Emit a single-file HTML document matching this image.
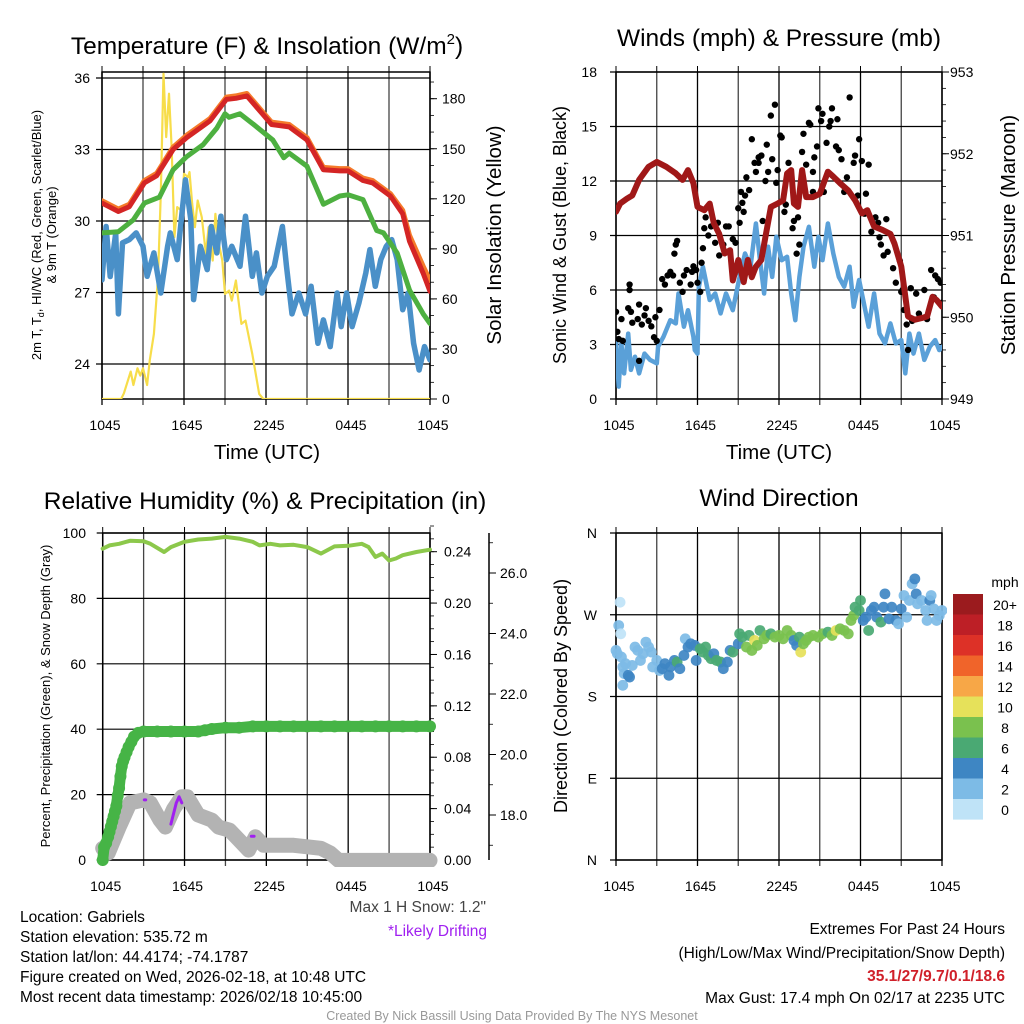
<!DOCTYPE html>
<html><head><meta charset="utf-8"><style>
body{margin:0;background:#fff}
svg{font-family:"Liberation Sans",sans-serif;display:block}
</style></head><body>
<svg id="s" width="1024" height="1024" viewBox="0 0 1024 1024" xmlns="http://www.w3.org/2000/svg">
<defs>
<clipPath id="c1"><rect x="102" y="72" width="328" height="327"/></clipPath>
<clipPath id="c2"><rect x="616" y="72" width="326" height="327"/></clipPath>
<clipPath id="c3"><rect x="95" y="528" width="345" height="339"/></clipPath>
<clipPath id="c4"><rect x="610" y="528" width="337" height="337"/></clipPath>
</defs>
<g id="g1"></g>
<g id="g2"></g>
<g id="g3"></g>
<g id="g4"></g>
<g font-size="24.5" text-anchor="middle">
<text x="267" y="54">Temperature (F) &amp; Insolation (W/m<tspan font-size="15" dy="-10">2</tspan><tspan dy="10">)</tspan></text>
<text x="779" y="46">Winds (mph) &amp; Pressure (mb)</text>
<text x="265" y="509">Relative Humidity (%) &amp; Precipitation (in)</text>
<text x="779" y="506">Wind Direction</text>
</g>
<g font-size="20.5" text-anchor="middle">
<text x="267" y="459">Time (UTC)</text>
<text x="779" y="459">Time (UTC)</text>
<text transform="translate(501,235) rotate(-90)">Solar Insolation (Yellow)</text>
<text transform="translate(1015,235) rotate(-90)">Station Pressure (Maroon)</text>
</g>
<g font-size="18" text-anchor="middle">
<text transform="translate(566,235) rotate(-90)">Sonic Wind &amp; Gust (Blue, Black)</text>
<text transform="translate(567,696) rotate(-90)">Direction (Colored By Speed)</text>
</g>
<g font-size="13" text-anchor="middle">
<text transform="translate(41,235) rotate(-90)">2m T, T<tspan font-size="9" dy="3">d</tspan><tspan dy="-3">, HI/WC (Red, Green, Scarlet/Blue)</tspan></text>
<text transform="translate(56,235) rotate(-90)">&amp; 9m T (Orange)</text>
<text transform="translate(50,696) rotate(-90)">Percent, Precipitation (Green), &amp; Snow Depth (Gray)</text>
</g>
<g font-size="15.5">
<text x="20" y="922">Location: Gabriels</text>
<text x="20" y="942">Station elevation: 535.72 m</text>
<text x="20" y="962">Station lat/lon: 44.4174; -74.1787</text>
<text x="20" y="982">Figure created on Wed, 2026-02-18, at 10:48 UTC</text>
<text x="20" y="1002">Most recent data timestamp: 2026/02/18 10:45:00</text>
<text x="486" y="912" text-anchor="end" fill="#444">Max 1 H Snow: 1.2"</text>
<text x="487" y="936" text-anchor="end" fill="#a020f0">*Likely Drifting</text>
<text x="1005" y="934" text-anchor="end">Extremes For Past 24 Hours</text>
<text x="1005" y="958" text-anchor="end">(High/Low/Max Wind/Precipitation/Snow Depth)</text>
<text x="1005" y="981" text-anchor="end" fill="#d0202a" font-weight="bold">35.1/27/9.7/0.1/18.6</text>
<text x="1005" y="1003" text-anchor="end">Max Gust: 17.4 mph On 02/17 at 2235 UTC</text>
</g>
<text x="512" y="1020" font-size="12.5" fill="#999" text-anchor="middle">Created By Nick Bassill Using Data Provided By The NYS Mesonet</text>
</svg>
<script>
// ---- data ----
const timeTickLabels=["1045","1645","2245","0445","1045"];
const redH=[0,1.2,2,3.1,4,5.2,6.2,7.9,9.1,9.8,10.6,11.8,12.4,13.7,15,16.2,17.4,18,19.1,19.8,21.1,22,22.5,23.5,24];
const redT=[30.75,30.4,30.6,31.6,31.9,33.0,33.5,34.2,35.1,35.15,35.25,34.45,34.05,33.95,33.4,32.15,32.1,32.1,31.7,31.6,31.05,30.3,29.15,27.8,27.05];
const orangeT=[30.85,30.5,30.7,31.7,32.0,33.1,33.6,34.3,35.2,35.25,35.35,34.55,34.15,34.05,33.5,32.25,32.2,32.2,31.8,31.7,31.15,30.45,29.4,28.1,27.5];
const greenH=[0,1.2,2.3,3.1,4.2,5.2,6.2,7.4,8.4,9,9.3,10.1,11.1,12.5,13.3,13.7,15,16.2,17.4,18,19.1,20.1,20.6,21.6,22.5,23.5,24];
const greenT=[29.5,29.55,30.05,30.75,31.0,32.15,32.7,33.2,33.9,34.5,34.35,34.5,34.05,33.4,32.65,32.85,32.3,30.7,31.05,31.1,30.9,29.6,29.5,28.65,27.1,26.1,25.7];
const blueH=[0,0.3,0.6,1.0,1.2,1.5,2.0,2.5,3.0,3.3,3.8,4.3,4.8,5.0,5.5,6.1,6.5,6.7,7.2,7.7,8.0,8.4,8.7,9.1,9.5,10.1,10.5,11.0,11.3,11.7,12.1,12.6,13.2,13.5,13.9,14.4,14.9,15.3,15.8,16.2,16.7,17.2,17.5,17.9,18.3,18.8,19.3,19.6,20.0,20.4,20.8,21.2,21.6,22.0,22.4,22.8,23.2,23.6,24];
const blueT=[27.53,29.77,27.67,29.49,26.1,29.08,29.22,29.5,28.94,27.68,28.66,26.98,28.94,29.5,28.38,31.73,30.06,26.7,28.94,27.96,29.77,28.66,30.2,28.38,28.94,28.1,30.2,27.68,28.66,26.98,27.68,28.1,29.77,28.1,26.1,26.98,26.1,27.26,24.87,25.85,24.73,26.98,25.57,26.98,25.57,26.56,27.82,28.8,27.26,28.38,28.94,29.22,28.38,26.28,26.98,24.87,23.75,24.73,24.17];
const solH=[0,1.4,1.6,2.1,2.3,2.6,2.8,3.0,3.3,3.5,3.8,4.1,4.3,4.5,4.7,4.9,5.1,5.3,5.5,5.8,6.0,6.3,6.4,6.6,6.8,7.0,7.3,7.6,7.8,8.1,8.3,8.5,8.8,9.0,9.3,9.5,9.8,10.2,10.5,11.0,11.5,11.8,24];
const solV=[0,0,3.4,16.4,8.4,18.4,14,18.4,8.4,23.4,39,73,123,195,157,183,150,97,115,113,135,133,136,117,103,119,109,87,103,83,111,95,83,63,65,59,71,45,47,27,3,0,0];
const presH=[0,0.3,0.8,1.2,1.7,2.4,3.0,3.7,4.4,4.9,5.3,5.7,6.0,6.5,6.9,7.2,7.6,8.0,8.4,8.6,9.0,9.4,9.7,10.0,10.3,10.7,11.0,11.4,11.9,12.3,12.6,12.9,13.1,13.4,13.7,14.0,14.5,15.0,15.6,16.0,16.5,17.1,17.6,18.1,18.5,19.0,19.6,20.2,20.5,21.0,21.5,22.0,22.5,22.9,23.3,23.6,24];
const presV=[951.29,951.39,951.45,951.49,951.68,951.84,951.9,951.84,951.76,951.68,951.8,951.64,951.35,951.31,951.39,951.15,951.02,950.78,950.82,950.45,950.7,950.43,950.7,950.49,950.62,950.7,950.98,951.35,951.39,951.43,951.76,951.8,951.39,951.35,951.8,951.47,951.47,951.51,951.78,951.72,951.64,951.55,951.43,951.27,951.31,951.11,951.07,951.02,950.9,950.62,950.01,949.97,949.99,950.01,950.25,950.21,950.13];
const windH=[0,0.2,0.4,0.6,0.9,1.1,1.4,1.7,2.1,2.5,3.0,3.1,3.5,4.0,4.4,4.6,5.0,5.3,5.7,5.8,6.0,6.1,6.4,6.9,7.3,7.7,8.1,8.6,9.1,9.5,9.9,10.3,10.6,10.9,11.2,11.5,11.8,12.2,12.6,12.9,13.2,13.5,13.8,14.2,14.6,14.9,15.2,15.6,16.0,16.4,16.8,17.2,17.5,17.9,18.2,18.6,19.0,19.4,19.8,20.2,20.6,21.0,21.3,21.6,21.9,22.3,22.7,23.1,23.5,23.8,24];
const windV=[3.24,0.68,3.06,1.41,3.6,1.6,2.33,1.41,2.5,2.15,1.96,2.88,3.43,4.34,4.16,5.81,3.98,4.89,3.43,2.69,2.5,6.18,7.28,5.45,5.81,4.71,5.81,4.89,6.72,8.01,7.28,9.66,7.64,5.81,8.38,6.72,8.93,7.64,7.83,5.81,4.34,6.72,8.38,9.48,7.28,8.93,7.64,9.66,8.01,6.72,6.18,7.28,5.08,6.55,5.45,3.98,5.81,3.6,3.06,4.16,3.06,3.24,1.41,3.6,2.5,3.6,2.15,2.88,3.24,2.69,2.88];
const gustH=[0,0.1,0.2,0.4,0.5,0.9,1.0,1.0,1.1,1.2,1.6,1.7,1.7,1.9,2.1,2.2,2.4,2.6,2.8,3.0,2.9,3.2,3.4,3.6,3.8,4.0,4.2,4.3,4.4,4.5,4.7,4.9,5.0,5.2,5.5,5.6,5.7,5.9,6.0,6.2,6.3,6.4,6.5,6.6,6.8,7.0,7.3,7.5,7.6,7.9,8.1,8.3,8.6,8.8,9.0,9.1,9.2,9.3,9.4,9.5,9.6,9.8,10.0,10.2,10.3,10.5,10.5,10.7,10.8,11.0,11.1,11.2,11.4,11.5,11.7,11.8,11.9,12.1,12.2,12.4,12.5,12.7,12.8,13.0,13.1,13.3,13.4,13.5,13.7,13.8,14.0,14.2,14.3,14.5,14.5,14.6,14.8,14.9,15.1,15.2,15.3,15.5,15.7,15.8,15.9,16.2,16.3,16.4,16.6,16.8,17.0,17.2,17.5,17.6,17.8,17.9,18.1,18.3,18.4,18.6,18.8,19.1,19.3,19.4,19.5,19.7,19.9,20.0,20.4,20.6,20.9,21.0,21.1,21.2,21.4,21.5,21.7,21.8,22.1,22.3,22.7,22.9,23.2,23.4,23.5,23.7,23.9,24.0];
const gustV=[4.8,3.7,3.3,4.4,3.2,5.0,6.0,6.3,4.8,4.2,4.4,5.2,2.1,4.1,4.6,5.0,4.3,4.0,3.4,3.2,4.5,4.9,6.6,6.3,6.8,7.0,6.8,8.0,8.5,8.7,6.4,5.9,6.8,7.1,6.3,7.0,7.3,7.1,6.4,5.9,7.5,8.3,9.4,10.0,9.0,9.5,8.6,9.7,7.9,8.5,9.5,9.5,8.8,8.6,10.5,9.7,11.4,10.8,10.3,11.2,12.2,11.5,14.3,13.0,12.5,13.3,13.0,13.4,9.8,12.0,14.0,12.5,15.6,13.2,16.2,11.9,12.6,14.5,14.4,10.3,10.7,13.0,12.3,9.4,9.8,8.0,10.0,8.5,13.6,14.6,12.9,15.2,15.1,11.4,12.5,13.3,13.9,16.0,15.3,15.7,11.4,14.1,15.0,15.3,16.0,13.9,15.4,13.7,13.2,11.4,12.2,16.6,13.0,13.4,11.2,14.3,13.1,10.2,11.3,12.9,9.2,10.0,9.7,8.9,8.5,7.9,9.9,8.1,7.2,6.4,7.6,5.9,6.0,4.9,4.1,2.7,6.1,4.3,5.8,4.7,6.0,4.4,7.1,5.6,6.8,6.6,6.4,5.3];
const rhH=[0,0.5,1.2,2,3,3.5,4.5,5,6,7,8,9,10,11,11.5,12.3,13,14,15,16,17,18,19,19.5,20,20.5,21,21.5,22,23,24];
const rhV=[95.2,96.2,96.7,97.6,97.5,96.7,94.2,95.7,97.3,98.0,98.3,98.8,98.3,97.3,96.2,96.7,96.2,96.4,95.7,93.7,95.9,96.1,96.7,95.7,92.7,93.7,91.6,92.2,93.2,94.2,94.9];
const precH=[0,0.1,0.25,0.4,0.5,0.6,0.7,0.8,0.9,1.0,1.1,1.2,1.3,1.4,1.5,1.6,1.75,1.9,2.1,2.3,2.6,3,4,5,6,7,7.5,8,9,10,11,12,13,14,15,16,17,18,19,20,21,22,23,24];
const precV=[0,0.01,0.013,0.018,0.022,0.026,0.03,0.034,0.038,0.042,0.05,0.056,0.065,0.073,0.077,0.08,0.084,0.088,0.092,0.096,0.099,0.1,0.1,0.1,0.1,0.1,0.101,0.102,0.103,0.103,0.104,0.104,0.104,0.104,0.104,0.104,0.104,0.104,0.104,0.104,0.104,0.104,0.104,0.104];
const snowH=[0,0.4,1.2,2.0,3.0,3.5,4.2,4.6,5.2,5.8,6.2,7.0,8.0,8.5,9.3,10.0,10.7,11.2,11.8,12.5,14,15,16,16.7,17.3,24];
const snowV=[16.9,16.74,17.6,18.4,18.5,18.4,17.83,17.6,18.2,18.6,18.6,18.0,17.83,17.6,17.5,17.17,16.84,17.28,17.0,17.0,17.0,16.95,16.9,16.74,16.5,16.5];
const driftH=[[3.05,3.15],[5.0,5.4,5.6,5.8],[10.9,11.1]];
const driftV=[[18.5,18.5],[17.7,18.4,18.6,18.4],[17.3,17.3]];
const dirH=[0.0,0.1,0.2,0.3,0.35,0.4,0.5,0.6,0.5,0.7,0.9,1.0,1.2,1.4,1.6,1.8,2.0,2.2,2.4,2.6,2.7,3.0,3.2,3.4,3.6,3.9,4.0,4.3,4.5,4.7,5.0,5.1,5.3,5.5,5.8,5.9,6.2,6.4,6.6,6.8,7.0,7.2,7.4,7.7,7.9,8.2,8.4,8.6,9.0,9.1,9.3,9.6,9.8,10.0,10.2,10.4,10.6,10.9,11.1,11.4,11.7,12.0,12.3,12.6,12.9,13.1,13.3,13.5,13.6,13.8,14.0,14.2,14.5,14.9,15.2,15.6,15.9,16.2,16.5,16.8,17.1,17.3,17.5,17.6,17.9,18.0,18.2,18.4,18.6,18.8,19.0,19.2,19.5,19.7,19.8,20.1,20.3,20.6,20.8,21.0,21.2,21.4,21.6,21.8,22.0,22.1,22.2,22.5,22.8,22.9,23.1,23.2,23.4,23.6,23.8,24.0];
const dirV=[230.7,227.1,258.2,283.8,249,223.4,212.5,205.2,192.3,216.1,203.3,201.4,214.2,234.4,230.7,219.7,227.1,239.9,234.4,228.9,212.5,219.7,208.7,210.6,216.1,203.3,212.5,219.7,217.9,210.6,225.2,243.5,234.4,238,236.2,219.7,232.6,228.9,234.4,225.2,221.6,227.1,219.7,217.9,210.6,217.9,230.7,228.9,238,249,245.4,234.4,247.2,230.7,241.7,236.2,252.7,243.5,247.2,249,245.4,247.2,243.5,252.7,247.2,241.7,236.2,245.4,228.9,238,241.7,245.4,247.2,245.4,249,250.9,247.2,252.7,254.5,252.7,249,263.7,269.2,278.3,274.7,285.7,263.7,267.3,252.7,274.7,278.3,267.3,261.9,278.3,293,265.5,278.3,263.7,260,276.5,291.2,267.3,285.7,304,309.5,293,282,285.7,274.7,263.7,285.7,291.2,276.5,263.7,269.2,274.7];
const dirS=[2,2,2,0,0,2,2,2,2,2,4,4,2,2,2,2,2,2,2,2,2,2,2,4,4,4,4,4,6,4,4,2,4,4,4,4,6,6,6,6,6,4,6,6,4,4,4,6,4,6,6,8,6,8,10,8,6,8,8,6,8,8,8,8,8,4,4,6,10,8,8,8,8,8,8,6,8,10,8,8,8,8,8,6,6,6,4,4,6,4,4,4,6,4,4,4,4,4,2,4,2,2,2,2,4,4,2,2,2,2,4,2,2,2,2,2];
const speedLabels=["20+","18","16","14","12","10","8","6","4","2","0"];
const speedColors=["#9b1b1e","#bd1f26","#dd3127","#f0642a","#f7a747","#e6e15a","#7ac14e","#4aa973","#3e86c3","#7dbbe6","#bfe3f7"];
const tempTicks=[24,27,30,33,36];
const solTicks=[0,30,60,90,120,150,180];
const windTicks=[0,3,6,9,12,15,18];
const presTicks=[949,950,951,952,953];
const rhTicks=[0,20,40,60,80,100];
const precTicks=[0,0.04,0.08,0.12,0.16,0.2,0.24];
const snowTicks=[18,20,22,24,26];
const dirLabels=["N","E","S","W","N"];
const dirTicks=[0,90,180,270,360];

// ---- axes ----
const NS="http://www.w3.org/2000/svg";
function mk(parent,tag,attrs){const e=document.createElementNS(NS,tag);for(const k in attrs)e.setAttribute(k,attrs[k]);parent.appendChild(e);return e;}
const X1=h=>102+h*328/24, T1=v=>78+(36-v)*71.5/3, I1=v=>399-v*300.3/180;
const X2=h=>616+h*326/24, W2=v=>399-v*327/18, P2=v=>72+(953-v)*81.75;
const X3=h=>102.7+h*327.3/24, R3=v=>860-v*3.27, PR3=v=>860-v*308.3/0.24, S3=v=>815-(v-18)*30.25;
const X4=h=>616+h*326/24, D4=v=>860-v*327/360;

function frame(g,x0,x1,y0,y1){
  for(let i=0;i<=8;i++){const x=x0+(x1-x0)*i/8;
    const l=mk(g,'line',{x1:x,x2:x,y1:y0,y2:y1+6,stroke:i%2?'#444':'#000','stroke-width':1.3});
    
    mk(g,'line',{x1:x,x2:x,y1:y0-6,y2:y0,stroke:'#000','stroke-width':1});
  }
  const r=mk(g,'rect',{x:x0,y:y0,width:x1-x0,height:y1-y0,fill:'none',stroke:'#000','stroke-width':1.5});
  
  timeTickLabels.forEach((t,i)=>{const tx=mk(g,'text',{x:x0+(x1-x0)*i/4+3,y:y1+31,'font-size':14,'text-anchor':'middle'});tx.textContent=t;
    });
}
function hgrid(g,ticks,fy,x0,x1,labx,fmt,anchor){
  ticks.forEach(v=>{const y=fy(v);
    const l=mk(g,'line',{x1:x0-6,x2:x1,y1:y,y2:y,stroke:'#000','stroke-width':1.2});
    
    const t=mk(g,'text',{x:labx,y:y+5,'font-size':14,'text-anchor':anchor});t.textContent=fmt(v);
    });
}
function rticks(g,ticks,fy,x,labx,fmt,minor){
  ticks.forEach(v=>{const y=fy(v);mk(g,'line',{x1:x,x2:x+7,y1:y,y2:y,stroke:'#000','stroke-width':1});
    const t=mk(g,'text',{x:labx,y:y+5,'font-size':14});t.textContent=fmt(v);
    });
  minor.forEach(v=>mk(g,'line',{x1:x,x2:x+4,y1:fy(v),y2:fy(v),stroke:'#000','stroke-width':0.8}));
}
function line(g,xs,ys,fx,fy,color,w,name,clip){
  const d=xs.map((h,i)=>(i?'L':'M')+fx(h).toFixed(1)+','+fy(ys[i]).toFixed(1)).join('');
  const p=mk(g,'path',{d:d,fill:'none',stroke:color,'stroke-width':w,'stroke-linejoin':'round','stroke-linecap':'round','clip-path':'url(#'+clip+')'});
  return p;
}
function range(a,b,s){const r=[];for(let v=a;v<=b+1e-9;v+=s)r.push(v);return r;}

// Panel 1
const g1=document.getElementById('g1');
frame(g1,102,430,72,399);
hgrid(g1,tempTicks,T1,102,430,90,v=>String(v),'end');
rticks(g1,solTicks,I1,430,442,v=>String(v),range(10,190,10));
line(g1,solH,solV,X1,I1,'#f7dd4a',2.2,'insolation-line','c1');
line(g1,blueH,blueT,X1,T1,'#4a90c8',5.5,'dewpoint-line','c1');
line(g1,greenH,greenT,X1,T1,'#4db040',5,'heat-index-line','c1');
line(g1,redH,orangeT,X1,T1,'#f57a2a',5,'temp-9m-line','c1');
line(g1,redH,redT,X1,T1,'#d42525',5,'temp-2m-line','c1');

// Panel 2
const g2=document.getElementById('g2');
frame(g2,616,942,72,399);
hgrid(g2,windTicks,W2,616,942,597,v=>String(v),'end');
rticks(g2,presTicks,P2,942,950,v=>String(v),range(949,953,0.2));
line(g2,windH,windV,X2,W2,'#5aa0d8',4.5,'sonic-wind-line','c2');
gustH.forEach((h,i)=>{const c=mk(g2,'circle',{cx:X2(h),cy:W2(gustV[i]),r:3.2,fill:'#000','clip-path':'url(#c2)'});
  });
line(g2,presH,presV,X2,P2,'#a01818',6,'pressure-line','c2');

// Panel 3
const g3=document.getElementById('g3');
frame(g3,102.7,430,533,860);
hgrid(g3,rhTicks,R3,102.7,430,86,v=>String(v),'end');
rticks(g3,precTicks,PR3,430,444,v=>v.toFixed(2),range(0,0.26,0.01));
const sa=mk(g3,'line',{x1:489,x2:489,y1:533,y2:860,stroke:'#000','stroke-width':1.5});

rticks(g3,snowTicks,S3,489,500,v=>v.toFixed(1),range(17,27,1));
line(g3,snowH,snowV,X3,S3,'#b3b3b3',15,'snow-depth-line','c3');
line(g3,rhH,rhV,X3,R3,'#8cc84b',4,'humidity-line','c3');
line(g3,precH,precV,X3,PR3,'#46b446',11,'precip-line','c3');
precH.forEach((h,i)=>{const c=mk(g3,'circle',{cx:X3(h),cy:PR3(precV[i]),r:6,fill:'#46b446','clip-path':'url(#c3)'});
  });
driftH.forEach((hs,k)=>{line(g3,hs,driftV[k],X3,S3,'#a020f0',3,'drifting-mark','c3');});

// Panel 4
const g4=document.getElementById('g4');
frame(g4,616,942,533,860);
dirTicks.forEach((v,i)=>{const y=D4(v);mk(g4,'line',{x1:610,x2:942,y1:y,y2:y,stroke:'#000','stroke-width':1.2});
  const t=mk(g4,'text',{x:597,y:y+5,'font-size':14,'text-anchor':'end'});t.textContent=dirLabels[i];
  });
function spColor(s){const idx=Math.max(0,Math.min(10,10-Math.floor(s/2)));return speedColors[idx];}
dirH.forEach((h,i)=>{const c=mk(g4,'circle',{cx:X4(h),cy:D4(dirV[i]),r:5.4,fill:spColor(dirS[i]),'fill-opacity':0.92,'clip-path':'url(#c4)'});
  });
// colorbar
const mt=mk(g4,'text',{x:1005,y:587,'font-size':14,'text-anchor':'middle'});mt.textContent='mph';

speedLabels.forEach((l,i)=>{const y=594+i*20.5;
  const r=mk(g4,'rect',{x:953,y:y,width:30,height:20.6,fill:speedColors[i]});
  
  const t=mk(g4,'text',{x:1005,y:y+16,'font-size':14,'text-anchor':'middle'});t.textContent=l;
  });
</script>
</body></html>
